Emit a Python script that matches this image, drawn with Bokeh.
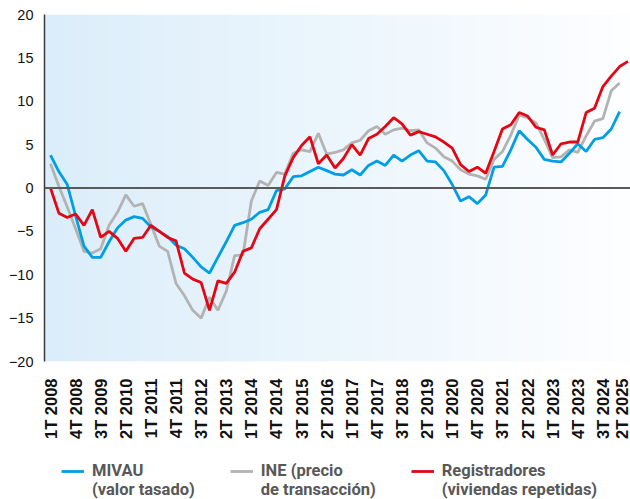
import numpy as np
from bokeh.plotting import figure
from bokeh.layouts import column
from bokeh.models import FixedTicker, Span, Legend, LegendItem
from bokeh.embed import file_html
from bokeh.resources import INLINE

# ---- data -------------------------------------------------------------
tick_labels = ["1T 2008", "4T 2008", "3T 2009", "2T 2010", "1T 2011", "4T 2011",
               "3T 2012", "2T 2013", "1T 2014", "4T 2014", "3T 2015", "2T 2016",
               "1T 2017", "4T 2017", "3T 2018", "2T 2019", "1T 2020", "4T 2020",
               "3T 2021", "2T 2022", "1T 2023", "4T 2023", "3T 2024", "2T 2025"]
tick_step = 3  # one label every 3 quarters

mivau = [3.8, 1.9, 0.4, -3.2, -6.7, -8.0, -8.0, -6.2, -4.6, -3.7,
         -3.3, -3.5, -4.5, -5.0, -5.6, -6.6, -7.0, -8.0, -9.1, -9.8,
         -8.0, -6.2, -4.3, -4.0, -3.6, -2.8, -2.5, -0.3, -0.1, 1.3,
         1.4, 1.9, 2.4, 2.0, 1.6, 1.5, 2.1, 1.5, 2.6, 3.1,
         2.6, 3.8, 3.1, 3.8, 4.3, 3.1, 3.0, 2.0, 0.4, -1.5,
         -1.0, -1.8, -0.8, 2.4, 2.5, 4.4, 6.6, 5.6, 4.7, 3.3,
         3.1, 3.0, 4.0, 5.1, 4.2, 5.6, 5.8, 6.8, 8.8]

ine = [2.8, 0.2, -2.2, -4.7, -7.3, -7.5, -7.0, -4.3, -2.8, -0.8,
       -2.1, -1.8, -4.2, -6.7, -7.3, -11.0, -12.4, -14.1, -15.0, -12.6,
       -14.1, -11.9, -7.8, -7.7, -1.5, 0.8, 0.3, 1.8, 1.6, 4.0,
       4.4, 4.2, 6.3, 3.9, 4.1, 4.4, 5.2, 5.5, 6.6, 7.1,
       6.2, 6.7, 6.9, 6.6, 6.7, 5.2, 4.6, 3.6, 3.1, 2.1,
       1.6, 1.4, 1.0, 3.3, 4.2, 6.1, 8.4, 8.1, 7.5, 5.6,
       3.5, 3.6, 4.4, 4.1, 6.0, 7.7, 8.0, 11.2, 12.1]

registradores = [0.0, -2.9, -3.4, -3.0, -4.3, -2.5, -5.7, -5.0, -5.8, -7.3,
                 -5.8, -5.7, -4.3, -5.0, -5.7, -6.1, -9.8, -10.5, -10.9, -14.1,
                 -10.7, -11.0, -9.7, -7.3, -6.9, -4.7, -3.6, -2.5, 1.4, 3.5,
                 4.9, 5.9, 2.8, 3.8, 2.3, 3.4, 5.0, 3.8, 5.7, 6.2,
                 7.1, 8.1, 7.4, 6.1, 6.5, 6.2, 5.9, 5.3, 4.6, 2.7,
                 1.9, 2.4, 1.7, 4.2, 6.8, 7.3, 8.7, 8.3, 7.0, 6.7,
                 3.8, 5.1, 5.3, 5.3, 8.7, 9.2, 11.7, 12.9, 14.0, 14.6]

y_ticks = [-20, -15, -10, -5, 0, 5, 10, 15, 20]
y_labels = ["\u221220", "\u221215", "\u221210", "\u22125", "0", "5", "10", "15", "20"]

# leading blank line keeps the legend line aligned with the first text line
series_labels = ["\nMIVAU\n(valor tasado)", "\nINE (precio\nde transacción)",
                 "\nRegistradores\n(viviendas repetidas)"]
series_colors = ["#009fe3", "#b3b3b3", "#e30613"]
series_data = [mivau, ine, registradores]

# ---- main chart -------------------------------------------------------
x_start, x_end = -0.717, 69.3
y_start, y_end = -20, 20

p = figure(width=630, height=447, output_backend="svg", toolbar_location=None,
           x_range=(x_start, x_end), y_range=(y_start, y_end),
           min_border_left=44, min_border_right=0, min_border_top=14,
           min_border_bottom=86)
p.outline_line_color = None
p.background_fill_color = "white"
p.border_fill_color = "white"

# horizontal gradient background (light blue -> white)
n = 256
t = np.linspace(0.0, 1.0, n)
c_left = np.array([219, 237, 250])
c_right = np.array([253, 254, 255])
img = np.empty((1, n), dtype=np.uint32)
view = img.view(dtype=np.uint8).reshape((1, n, 4))
for k in range(3):
    view[0, :, k] = np.round(c_left[k] + (c_right[k] - c_left[k]) * t).astype(np.uint8)
view[0, :, 3] = 255
p.image_rgba(image=[img], x=x_start, y=y_start, dw=x_end - x_start, dh=y_end - y_start)

p.xgrid.grid_line_color = None
p.ygrid.ticker = FixedTicker(ticks=y_ticks)
p.ygrid.grid_line_color = "#3c3c3c"
p.ygrid.grid_line_dash = "1 1"
p.ygrid.grid_line_width = 1

p.add_layout(Span(location=0, dimension="width", line_color="#5a5a5a", line_width=2))

# draw order: INE, MIVAU, Registradores
for idx in (1, 0, 2):
    d = series_data[idx]
    p.line(list(range(len(d))), d, line_color=series_colors[idx], line_width=2.8)

p.xaxis.ticker = FixedTicker(ticks=[i * tick_step for i in range(len(tick_labels))])
p.xaxis.major_label_overrides = {i * tick_step: lab for i, lab in enumerate(tick_labels)}
p.xaxis.major_label_orientation = np.pi / 2
p.xaxis.axis_line_color = None
p.xaxis.major_tick_line_color = None
p.xaxis.minor_tick_line_color = None
p.xaxis.major_tick_in = 0
p.xaxis.major_tick_out = 0
p.xaxis.major_label_standoff = 17
p.xaxis.major_label_text_font = "Liberation Sans"
p.xaxis.major_label_text_font_style = "bold"
p.xaxis.major_label_text_font_size = "16.5px"
p.xaxis.major_label_text_color = "#111111"

p.yaxis.ticker = FixedTicker(ticks=y_ticks)
p.yaxis.major_label_overrides = {v: lab for v, lab in zip(y_ticks, y_labels)}
p.yaxis.axis_line_color = "#3a3a3a"
p.yaxis.axis_line_width = 1.5
p.yaxis.major_tick_line_color = None
p.yaxis.minor_tick_line_color = None
p.yaxis.major_tick_in = 0
p.yaxis.major_tick_out = 0
p.yaxis.major_label_standoff = 11
p.yaxis.major_label_text_font = "Liberation Sans"
p.yaxis.major_label_text_font_size = "14.5px"
p.yaxis.major_label_text_color = "#111111"

# ---- legend strip (series drawn outside its visible range, legend only) ----
lg = figure(width=630, height=52, output_backend="svg", toolbar_location=None,
            x_range=(0, 1), y_range=(1000, 1001), x_axis_type=None, y_axis_type=None,
            min_border=0)
lg.outline_line_color = None
lg.background_fill_color = "white"
lg.border_fill_color = "white"
lg.xgrid.visible = False
lg.ygrid.visible = False
items = []
for idx in range(3):
    d = series_data[idx]
    r = lg.line(list(range(len(d))), d, line_color=series_colors[idx], line_width=2.8)
    items.append(LegendItem(label=series_labels[idx], renderers=[r]))

legend = Legend(items=items, orientation="horizontal", location=(17, 0),
                label_text_font="Roboto", label_text_font_style="bold",
                label_text_font_size="16.5px", label_text_color="#585858",
                label_text_line_height=1.09,
                glyph_width=23, label_standoff=8, spacing=35,
                padding=0, margin=0, border_line_color=None,
                background_fill_alpha=0)
lg.add_layout(legend, "center")

layout = column(p, lg, spacing=0)
open("out.html", "w").write(file_html(layout, INLINE))
